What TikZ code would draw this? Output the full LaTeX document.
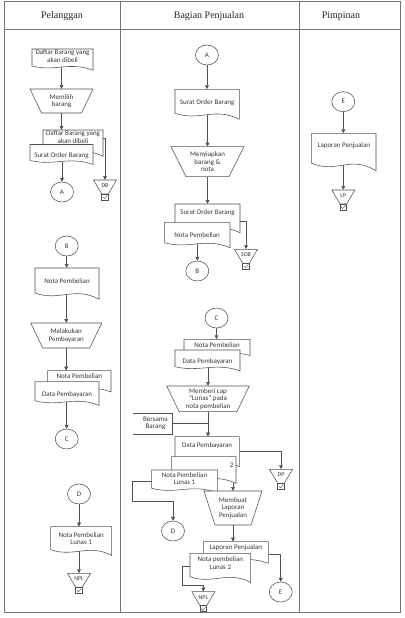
\documentclass[tikz,border=0pt]{standalone}
\usepackage{fontspec}
\setmainfont{Liberation Serif}
\newfontfamily\shapefont{Carlito}
\usetikzlibrary{shapes.geometric,arrows.meta,calc}

\tikzset{
  shp/.style={draw=black!68, fill=white, line width=0.55pt},
  txt/.style={inner sep=0pt, align=center, font=\shapefont\fontsize{7}{7.5}\selectfont, text=black!78},
  lbl/.style={inner sep=0pt, align=center, font=\shapefont\fontsize{6}{7}\selectfont, text=black!78},
  box/.style={inner sep=0pt, draw=none},
  conn/.style={ellipse, draw=black!68, fill=white, line width=0.55pt, minimum width=23pt, minimum height=20pt, inner sep=0pt, font=\shapefont\fontsize{7}{7.5}\selectfont, text=black!78},
  arr/.style={draw=black!68, line width=0.55pt, -{Triangle[length=3.8pt,width=3.8pt]}},
  ln/.style={draw=black!68, line width=0.55pt},
  frame/.style={draw=black!55, line width=1pt},
  head/.style={font=\fontsize{10}{12}\selectfont, text=black!85, inner sep=0pt},
}

% document shape: name, left x, top y, width, height(left edge), text y offset, text
\newcommand\docu[7]{%
  \begin{scope}[shift={(#2,#3)}]
    \pgfmathsetmacro\dw{#4}%
    \pgfmathsetmacro\dh{#5}%
    \pgfmathsetmacro\dn{1.06*#5}%
    \filldraw[shp] (0,0) -- (\dw,0) -- (\dw,{1.25*\dh}) .. controls ({0.62*\dw},{0.72*\dh}) and ({0.38*\dw},{1.35*\dh}) .. (0,\dh) -- cycle;
    \node[box, minimum width=\dw pt, minimum height=\dn pt] (#1) at ({\dw/2},{\dn/2}) {};
    \node[txt] (#1-t) at ({\dw/2},#6) {#7};
  \end{scope}}

% manual operation: name, centre x, top y, top width, inset, height, text
\newcommand\manop[7]{%
  \begin{scope}[shift={(#2,#3)}]
    \filldraw[shp] ({-#4/2},0) -- ({#4/2},0) -- ({#4/2-#5},#6) -- ({-#4/2+#5},#6) -- cycle;
    \node[txt, minimum width=#4 pt, minimum height=#6 pt] (#1) at (0,{#6/2}) {#7};
  \end{scope}}

% archive: name, centre x, top y, label
\newcommand\arch[4]{%
  \begin{scope}[shift={(#2,#3)}]
    \filldraw[shp] (-11.5,0) -- (11.5,0) -- (3.3,14) -- (-3.3,14) -- cycle;
    \filldraw[shp] (-3.3,14) rectangle (3.3,20);
    \draw[ln, line width=0.4pt] (-2.2,16.8) -- (-0.6,18.6) -- (2.3,15.2);
    \node[lbl] at (0,5.5) {#4};
    \node[box, minimum width=23pt, minimum height=20pt] (#1) at (0,10) {};
  \end{scope}}

\begin{document}
\begin{tikzpicture}[x=1pt,y=-1pt]
\useasboundingbox (0,0) rectangle (404,618);
\fill[white] (0,0) rectangle (404,618);

% frame
\draw[frame] (4,2) rectangle (400,612);
\draw[frame] (4,30) -- (400,30);
\draw[frame] (120,2) -- (120,612);
\draw[frame] (299,2) -- (299,612);

\node[head] (h1) at (62,16.5) {Pelanggan};
\node[head] (h2) at (209,16.5) {Bagian Penjualan};
\node[head] (h3) at (341,16.5) {Pimpinan};

% ---------- Pelanggan ----------
\docu{d1}{32}{49}{61}{17}{7.3}{Daftar Barang yang\\akan dibeli}
\manop{t1}{61.5}{89}{63}{11.5}{24}{Memilih\\barang}
\docu{s1u}{43}{130}{60}{21}{7}{Daftar Barang yang\\akan dibeli}
\docu{s1l}{30}{144.5}{63}{16}{11}{Surat Order Barang}
\node[conn] (cA1) at (62,192) {A};
\arch{db}{105}{180}{DB}

\node[conn] (cB1) at (66.7,246) {B};
\docu{d2}{35}{268}{64}{25}{12.7}{Nota Pembelian}
\manop{t2}{66.2}{323}{71}{12}{25}{Melakukan\\Pembayaran}
\docu{s2u}{47.7}{370.7}{63.3}{17}{5.2}{Nota Pembelian}
\docu{s2l}{35}{381.7}{64}{19}{13.3}{Data Pembayaran}
\node[conn] (cC1) at (66.7,439) {C};

\node[conn] (cD1) at (79,494) {D};
\docu{d3}{50.7}{526.7}{61}{23}{12}{Nota Pembelian\\Lunas 1}
\arch{npla}{79}{573.3}{NPL}

% ---------- Bagian Penjualan ----------
\node[conn] (cA2) at (207,55) {A};
\docu{m1}{175}{89.3}{64.3}{24}{13}{Surat Order Barang}
\manop{t3}{207.5}{146.7}{73}{15}{30}{Menyiapkan\\barang \&\\nota}
\docu{s3u}{175}{204}{65}{23}{8.7}{Surat Order Barang}
\docu{s3l}{164.3}{222.7}{65.7}{20}{12.3}{Nota Pembelian}
\node[conn] (cB2) at (197.3,271) {B};
\arch{sob}{246}{249.3}{SOB}

\node[conn] (cC2) at (216.5,318) {C};
\docu{s4u}{184}{339.3}{66}{13}{5.7}{Nota Pembelian}
\docu{s4l}{175}{350}{65}{16.7}{11.7}{Data Pembayaran}
\manop{t4}{208}{386}{82.6}{12.5}{25.7}{Memberi cap\\“Lunas” pada\\nota pembelian}

\node[box, minimum width=39pt, minimum height=21pt] (ann) at (152.5,423.5) {};
\draw[ln] (ann.north west) -- (ann.north east) -- (ann.south east) -- (ann.south west);
\node[txt] (ann-t) at (155.5,423.5) {Bersama\\Barang};

\docu{s5a}{175}{436.7}{64.3}{24}{9.3}{Data Pembayaran}
\docu{s5b}{171.7}{456.7}{64.3}{21.3}{8}{}
\node[txt] (two) at (231.7,465) {2};
\docu{s5c}{151.7}{470}{65.6}{18.3}{8.7}{Nota Pembelian\\Lunas 1}
\arch{dp}{281}{469.3}{DP}
\manop{t5}{233}{491}{58}{11}{34}{Membuat\\Laporan\\Penjualan}
\node[conn] (cD2) at (173,531) {D};
\coordinate (bd) at (132.7,501.7);

\docu{s6u}{203.3}{541.7}{65}{17.3}{5.6}{Laporan Penjualan}
\docu{s6l}{190}{553.3}{60.7}{23.4}{10}{Nota pembelian\\Lunas 2}
\node[conn] (cE2) at (280.7,592) {E};
\arch{nplb}{203.3}{591.7}{NPL}
\coordinate (bn) at (182.3,585);

% ---------- Pimpinan ----------
\node[conn] (cE3) at (343.3,101.7) {E};
\docu{r1}{311.7}{133.3}{64.3}{30}{12.4}{Laporan Penjualan}
\arch{lp}{343.3}{190}{LP}

% ---------- connectors ----------
\draw[arr] (d1.south -| t1.north) -- (t1.north);
\draw[arr] (t1.south) -- (t1.south |- s1u.north);
\draw[arr] (cA1.north |- s1l.south) -- (cA1.north);
\draw[arr] ([yshift=-8pt]s1u.north east) -| (db.north);

\draw[arr] (cB1.south) -- (cB1.south |- d2.north);
\draw[arr] (t2.north |- d2.south) -- (t2.north);
\draw[arr] (t2.south) -- (t2.south |- s2u.north);
\draw[arr] (cC1.north |- s2l.south) -- (cC1.north);

\draw[arr] (cD1.south) -- (cD1.south |- d3.north);
\draw[arr] (npla.north |- d3.south) -- (npla.north);

\draw[arr] (cA2.south) -- (cA2.south |- m1.north);
\draw[arr] (t3.north |- m1.south) -- (t3.north);
\draw[arr] (t3.south) -- (t3.south |- s3u.north);
\draw[arr] (cB2.north |- s3l.south) -- (cB2.north);
\draw[arr] ([yshift=-17pt]s3u.north east) -| (sob.north);

\draw[arr] (cC2.south) -- (cC2.south |- s4u.north);
\draw[arr] (t4.north |- s4l.south) -- (t4.north);
\draw[arr] (t4.south) -- (t4.south |- s5a.north);
\draw[ln] (ann.east) -- (ann.east -| t4.south);
\draw[arr] ([yshift=-15pt]s5a.north east) -| (dp.north);
\draw[arr] ([yshift=-11.7pt]s5c.north west) -| (bd) -| (cD2.north);
\draw[arr] ($(s5b.north -| t5.north)+(0,26)$) -- (t5.north);
\draw[arr] (t5.south) -- (t5.south |- s6u.north);
\draw[arr] ([yshift=-12.6pt]s6u.north east) -| (cE2.north);
\draw[arr] ([yshift=-13.4pt]s6l.north west) -| (bn) -| (nplb.north);

\draw[arr] (cE3.south) -- (cE3.south |- r1.north);
\draw[arr] (lp.north |- r1.south) -- (lp.north);
\end{tikzpicture}
\end{document}
